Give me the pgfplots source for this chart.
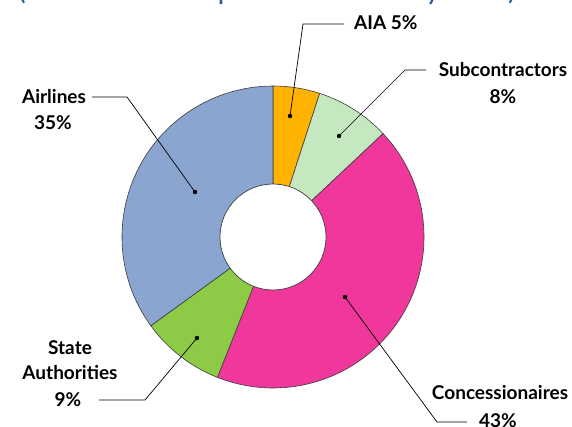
\documentclass[border=0pt]{standalone}
\usepackage{pgfplots}
\pgfplotsset{compat=1.18}
\usepackage{fontspec}
\setmainfont{Lato}
\definecolor{aiaC}{HTML}{FFB300}
\definecolor{subC}{HTML}{C5E8C0}
\definecolor{conC}{HTML}{F0379B}
\definecolor{staC}{HTML}{8DCA46}
\definecolor{airC}{HTML}{8AA5D0}
\definecolor{edgeC}{HTML}{3C3C3C}
\definecolor{titleC}{HTML}{2F5C9E}

\begin{document}
\begin{tikzpicture}[
    lbl/.style={font=\bfseries\fontsize{19}{22}\selectfont, inner sep=0pt},
    ttl/.style={font=\fontsize{30}{34}\selectfont, text=titleC, anchor=base, inner sep=0pt},
]
\useasboundingbox (0,0) rectangle (572pt,426pt);
\begin{axis}[
    at={(0,0)}, anchor=south west,
    scale only axis, width=572pt, height=426pt,
    xmin=0, xmax=572, ymin=0, ymax=426,
    hide axis, clip=false,
]
% donut: shares in percent, clockwise from 12 o'clock
\def\cx{273}\def\cy{189}
\xdef\start{90}
\foreach \v/\c in {5/aiaC,8/subC,43/conC,9/staC,35/airC}{
    \pgfmathsetmacro\e{\start-3.6*\v}
    \edef\temp{\noexpand\filldraw[fill=\c, draw=edgeC, line width=0.6pt]
        (axis cs:\cx,\cy) -- ++(\start:151pt)
        arc[start angle=\start, end angle=\e, radius=151pt] -- cycle;}
    \temp
    \xdef\start{\e}
}
\filldraw[fill=white, draw=edgeC, line width=0.7pt] (axis cs:\cx,\cy) circle[radius=53pt];

% leader lines
\addplot[black, line width=0.7pt, mark=none] coordinates {(290,310) (303,402) (344,402)};
\addplot[black, line width=0.7pt, mark=none] coordinates {(339,290) (405,356) (426,356)};
\addplot[black, line width=0.7pt, mark=none] coordinates {(345,129) (437,4) (467,4)};
\addplot[black, line width=0.7pt, mark=none] coordinates {(197,88) (145,26) (99,26)};
\addplot[black, line width=0.7pt, mark=none] coordinates {(195,234) (127,329) (92,329)};
\addplot[only marks, mark=*, mark size=2pt, black] coordinates {(290,310) (339,290) (345,129) (197,88) (195,234)};

% labels
\node[lbl, anchor=west] at (axis cs:354,403) {AIA 5\%};
\node[lbl] at (axis cs:503,356) {Subcontractors};
\node[lbl] at (axis cs:503,329) {8\%};
\node[lbl] at (axis cs:500,33) {Concessionaires};
\node[lbl] at (axis cs:498,5) {43\%};
\node[lbl] at (axis cs:70,78) {State};
\node[lbl] at (axis cs:70,53) {Authorities};
\node[lbl] at (axis cs:68,26) {9\%};
\node[lbl] at (axis cs:54,329) {Airlines};
\node[lbl] at (axis cs:53,303) {35\%};

% cut-off title above the chart
\node[ttl] at (axis cs:22,426) {(};
\node[ttl] at (axis cs:226,426) {p};
\node[ttl] at (axis cs:433,426) {y};
\node[ttl] at (axis cs:512,426) {)};
\end{axis}
\end{tikzpicture}
\end{document}
